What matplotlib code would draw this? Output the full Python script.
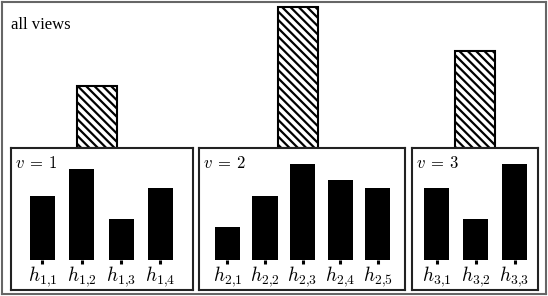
import matplotlib
matplotlib.use("Agg")
import matplotlib.pyplot as plt

# ---- data ----
views = [r"$v\:=\:1$", r"$v\:=\:2$", r"$v\:=\:3$"]
all_views_values = [62, 141, 97]
view_labels = [
    [r"$h_{1{,}1}$", r"$h_{1{,}2}$", r"$h_{1{,}3}$", r"$h_{1{,}4}$"],
    [r"$h_{2{,}1}$", r"$h_{2{,}2}$", r"$h_{2{,}3}$", r"$h_{2{,}4}$", r"$h_{2{,}5}$"],
    [r"$h_{3{,}1}$", r"$h_{3{,}2}$", r"$h_{3{,}3}$"],
]
view_values = [
    [64, 91, 41, 72],
    [33, 64, 96, 80, 72],
    [72, 41, 96],
]

# ---- layout (pixels) ----
W, H = 548, 296
plt.rcParams["mathtext.fontset"] = "cm"
plt.rcParams["hatch.linewidth"] = 1.6
plt.rcParams["hatch.color"] = "black"

fig = plt.figure(figsize=(W / 100, H / 100), dpi=100)


def rect(x0, y0, x1, y1):
    return [x0 / W, 1 - y1 / H, (x1 - x0) / W, (y1 - y0) / H]


# outer frame
main = fig.add_axes(rect(2, 2, 546, 294))
main.set_xticks([])
main.set_yticks([])
for s in main.spines.values():
    s.set_color("#666666")
    s.set_linewidth(1.5)
main.annotate("all views", xy=(0, 1), xycoords="axes fraction",
              xytext=(9, -27), textcoords="offset pixels",
              fontsize=12, family="Liberation Serif", ha="left", va="baseline")

boxes = [(11, 148, 193, 290), (199, 148, 405, 290), (412, 148, 538, 290)]
# (left margin to first bar centre, pitch) in pixels for each inset
spacing = [(31.5, 39.3), (28.5, 37.5), (24.5, 39.0)]
hatch_offset_px = [-5, -4, 0]
bar_px = 25
baseline_px = 260
top_col_px = 2
hatch_w_px = 40

for i, (x0, y0, x1, y1) in enumerate(boxes):
    # column axes for the aggregated (all views) bar
    col = fig.add_axes(rect(x0, top_col_px, x1, y0))
    col.patch.set_alpha(0)
    col.bar([0], [all_views_values[i]], width=hatch_w_px,
            facecolor="white", edgecolor="black", linewidth=1.5, hatch="\\\\\\\\")
    half = (x1 - x0) / 2
    col.set_xlim(-half - hatch_offset_px[i], half - hatch_offset_px[i])
    col.set_ylim(0, y0 - top_col_px)
    col.axis("off")

    # frame axes
    frame = fig.add_axes(rect(x0, y0, x1, y1))
    frame.set_facecolor("white")
    frame.set_xticks([])
    frame.set_yticks([])
    for s in frame.spines.values():
        s.set_color("#222222")
        s.set_linewidth(1.5)
    frame.annotate(views[i], xy=(0, 1), xycoords="axes fraction",
                   xytext=(4, -20), textcoords="offset pixels",
                   fontsize=12, ha="left", va="baseline")

    # bars axes
    ax = fig.add_axes(rect(x0, y0, x1, baseline_px))
    ax.patch.set_alpha(0)
    vals = view_values[i]
    n = len(vals)
    m, p = spacing[i]
    xs = list(range(n))
    ax.bar(xs, vals, width=bar_px / p, color="black")
    left = -m / p
    right = left + (x1 - x0) / p
    ax.set_xlim(left, right)
    ax.set_ylim(0, baseline_px - y0)
    for s in ax.spines.values():
        s.set_visible(False)
    ax.set_yticks([])
    ax.set_xticks(xs)
    ax.set_xticklabels(view_labels[i], fontsize=14)
    ax.tick_params(axis="x", direction="out", length=3, width=2.2, color="black", pad=0)

fig.savefig("out.png", dpi=100)
